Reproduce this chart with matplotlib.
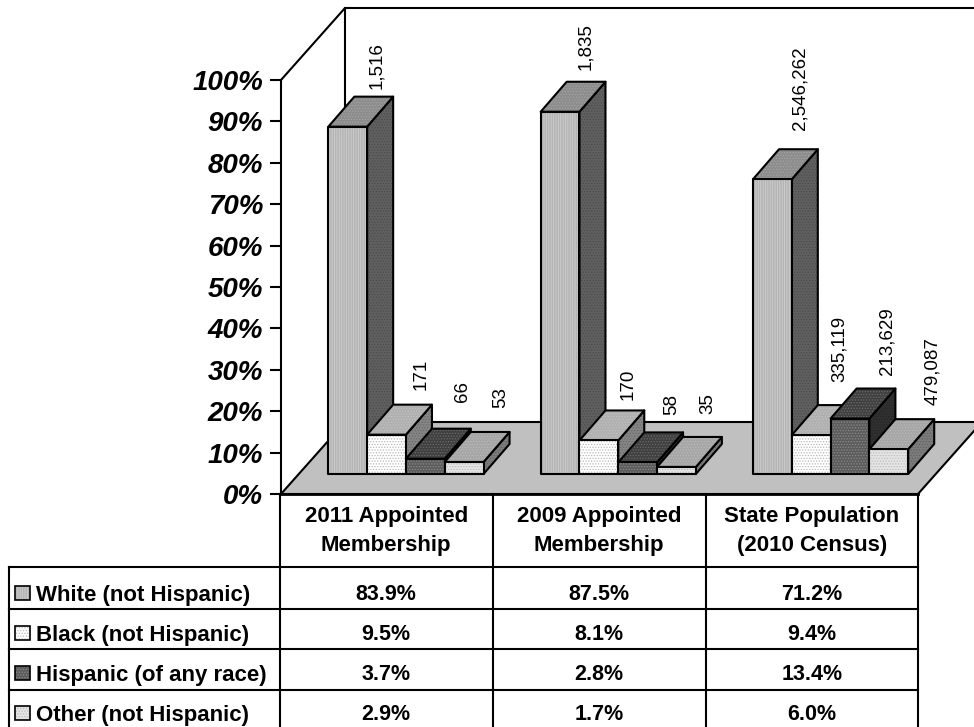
import matplotlib
matplotlib.use('Agg')
import matplotlib.pyplot as plt
from matplotlib.patches import Polygon

plt.rcParams['font.family'] = ['Liberation Sans', 'DejaVu Sans']
plt.rcParams['hatch.linewidth'] = 0.6

columns = ['2011 Appointed\nMembership', '2009 Appointed\nMembership', 'State Population\n(2010 Census)']
races = ['White (not Hispanic)', 'Black (not Hispanic)', 'Hispanic (of any race)', 'Other (not Hispanic)']
pct_2011 = [83.9, 9.5, 3.7, 2.9]
pct_2009 = [87.5, 8.1, 2.8, 1.7]
pct_2010 = [71.2, 9.4, 13.4, 6.0]
counts_2011 = ['1,516', '171', '66', '53']
counts_2009 = ['1,835', '170', '58', '35']
counts_2010 = ['2,546,262', '335,119', '213,629', '479,087']
yticks = list(range(0, 101, 10))

pct = [pct_2011, pct_2009, pct_2010]
counts = [counts_2011, counts_2009, counts_2010]

# front colour, top colour, side colour, hatch, hatch colour
styles = [
    ('#b4b4b4', '#8c8c8c', '#606060', '|||||||', '#cfcfcf'),
    ('#ffffff', '#b0b0b0', '#858585', '......', '#b8b8b8'),
    ('#5c5c5c', '#404040', '#303030', '......', '#8a8a8a'),
    ('#e4e4e4', '#a6a6a6', '#7c7c7c', '......', '#bcbcbc'),
]
# label nudges in pixels (x, y above the back of the bar top)
nudges = [
    [(3, 8), (9, 15), (11, 27), (11, 24)],
    [(0, 12), (3, 10), (8, 17), (5, 23)],
    [(2, 19), (2, 23), (11, 14), (18, 14)],
]

fig = plt.figure(figsize=(9.74, 7.27), dpi=100)
ax = fig.add_axes([0, 0, 1, 1])

px_x = 212.33
px_y = 4.14
ax.set_xlim(-281 / px_x, (974 - 281) / px_x)
ax.set_ylim(-(727 - 494) / px_y, 494 / px_y)

wall_dx = 64 / px_x
wall_dy = 72 / px_y
bar_dx = 26 / px_x
bar_dy = 30 / px_y
bar_w = 38.8 / px_x
bar_base = 20 / px_y
group_start = 0.223

ink = '#000000'


def face(points, color, hatch=None, hatch_color=None, z=3):
    if hatch:
        ax.add_patch(Polygon(points, closed=True, facecolor=color, edgecolor=hatch_color,
                             hatch=hatch, lw=0, zorder=z))
    else:
        ax.add_patch(Polygon(points, closed=True, facecolor=color, edgecolor='none', zorder=z))
    ax.add_patch(Polygon(points, closed=True, fill=False, edgecolor=ink, lw=1.5, zorder=z,
                         joinstyle='round'))


def draw_bar(x, value, style):
    front, top, side, hatch, hc = style
    y0 = bar_base
    y1 = bar_base + value
    face([(x + bar_w, y0), (x + bar_w + bar_dx, y0 + bar_dy), (x + bar_w + bar_dx, y1 + bar_dy),
          (x + bar_w, y1)], side, '......', '#00000033')
    face([(x, y1), (x + bar_w, y1), (x + bar_w + bar_dx, y1 + bar_dy), (x + bar_dx, y1 + bar_dy)],
         top, '......', '#ffffff33')
    face([(x, y0), (x + bar_w, y0), (x + bar_w, y1), (x, y1)], front, hatch, hc)


# walls and floor
x_end = 3.0
top = 100 + wall_dy
ax.plot([0, wall_dx, x_end + wall_dx], [100, top, top], color=ink, lw=1.5, zorder=1)
ax.plot([wall_dx, wall_dx], [wall_dy, top], color=ink, lw=1.5, zorder=1)
ax.add_patch(Polygon([(0, 0), (x_end, 0), (x_end + wall_dx, wall_dy), (wall_dx, wall_dy)],
                     closed=True, facecolor='#c0c0c0', edgecolor=ink, lw=1.5, zorder=2))

for g in range(3):
    for i in range(4):
        x = g + group_start + i * bar_w
        draw_bar(x, pct[g][i], styles[i])
        ax.annotate(counts[g][i], (x + bar_w / 2 + bar_dx, bar_base + pct[g][i] + bar_dy),
                    xytext=(nudges[g][i][0], nudges[g][i][1]), textcoords='offset pixels',
                    rotation=90, ha='center', va='bottom', fontsize=13.5, color='#000000', zorder=5)

# the spine move resets the ticks, so it goes first
for s in ['top', 'right', 'bottom']:
    ax.spines[s].set_visible(False)
ax.spines['left'].set_position(('data', 0))
ax.spines['left'].set_bounds(0, 100)
ax.spines['left'].set_linewidth(1.5)
ax.spines['left'].set_color(ink)
ax.patch.set_alpha(0)

ax.set_xticks([])
ax.set_yticks(yticks)
ax.set_yticklabels([str(t) + '%' for t in yticks], fontsize=20, fontweight='bold', fontstyle='italic')
ax.tick_params(axis='y', direction='out', length=8, width=1.5, pad=5, color=ink, labelcolor='#000000')

# table underneath, in pixels
tb = fig.add_axes([0, 0, 1, 1])
tb.set_xlim(0, 974)
tb.set_ylim(727, 0)
tb.axis('off')
tb.patch.set_alpha(0)

col_x = [280, 492.5, 705.5, 918]
row_y = [567, 609, 649, 690]
key_y = [593, 633, 673, 713]
tb.plot([280, 918], [494, 494], color=ink, lw=2, zorder=4)
for x in col_x:
    tb.plot([x, x], [494, 727], color=ink, lw=1.5)
tb.plot([9, 9], [567, 727], color=ink, lw=1.5)
for y in row_y:
    tb.plot([9, 918], [y, y], color=ink, lw=1.5)

for c in range(3):
    cx = (col_x[c] + col_x[c + 1]) / 2
    tb.text(cx, 531, columns[c], ha='center', va='center', fontsize=16, fontweight='bold',
            color='#000000', linespacing=1.55)
    for r in range(4):
        tb.text(cx, key_y[r] + 1, '{:.1f}%'.format(pct[c][r]), ha='center', va='center',
                fontsize=15.5, fontweight='bold', color='#000000')

for r in range(4):
    front, _, _, hatch, hc = styles[r]
    corners = [(15, key_y[r] - 7), (30, key_y[r] - 7), (30, key_y[r] + 7), (15, key_y[r] + 7)]
    tb.add_patch(Polygon(corners, closed=True, facecolor=front, edgecolor=hc, hatch=hatch, lw=0))
    tb.add_patch(Polygon(corners, closed=True, fill=False, edgecolor=ink, lw=1.2))
    tb.text(36, key_y[r] + 2, races[r], ha='left', va='center', fontsize=16, fontweight='bold', color='#000000')

fig.savefig('out.png', dpi=100)
